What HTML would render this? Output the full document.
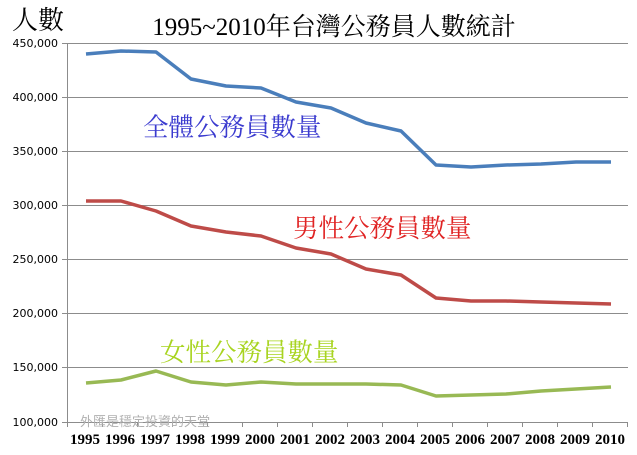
<!DOCTYPE html>
<html><head><meta charset="utf-8"><style>
body{margin:0;background:#fff;}
svg{display:block}
</style></head><body>
<svg width="637" height="455" xmlns="http://www.w3.org/2000/svg">
<rect width="637" height="455" fill="#fff"/>
<g stroke="#8c8c8c" stroke-width="1">
<line x1="67" y1="43.5" x2="628" y2="43.5"/>
<line x1="67" y1="97.5" x2="628" y2="97.5"/>
<line x1="67" y1="151.5" x2="628" y2="151.5"/>
<line x1="67" y1="205.5" x2="628" y2="205.5"/>
<line x1="67" y1="259.5" x2="628" y2="259.5"/>
<line x1="67" y1="313.5" x2="628" y2="313.5"/>
<line x1="67" y1="367.5" x2="628" y2="367.5"/>
<line x1="67" y1="422.5" x2="628" y2="422.5"/>
<line x1="67.5" y1="43" x2="67.5" y2="427"/>
<line x1="62" y1="43.5" x2="67" y2="43.5"/><line x1="62" y1="97.5" x2="67" y2="97.5"/><line x1="62" y1="151.5" x2="67" y2="151.5"/><line x1="62" y1="205.5" x2="67" y2="205.5"/><line x1="62" y1="259.5" x2="67" y2="259.5"/><line x1="62" y1="313.5" x2="67" y2="313.5"/><line x1="62" y1="367.5" x2="67" y2="367.5"/><line x1="62" y1="422.5" x2="67" y2="422.5"/>
<path d="M102.5 422v5M137.5 422v5M172.5 422v5M207.5 422v5M242.5 422v5M277.5 422v5M312.5 422v5M347.5 422v5M382.5 422v5M417.5 422v5M452.5 422v5M487.5 422v5M522.5 422v5M557.5 422v5M592.5 422v5M627.5 422v5"/>
</g>
<g font-family="'DejaVu Sans',sans-serif" font-size="11" fill="#000" text-anchor="end">
<text x="58" y="47">450,000</text><text x="58" y="101">400,000</text><text x="58" y="155">350,000</text><text x="58" y="209">300,000</text><text x="58" y="263">250,000</text><text x="58" y="317">200,000</text><text x="58" y="371">150,000</text><text x="58" y="426">100,000</text>
</g>
<g font-family="'Liberation Serif',serif" font-weight="bold" font-size="15" fill="#000" text-anchor="middle">
<text x="85" y="444">1995</text><text x="120" y="444">1996</text><text x="155" y="444">1997</text><text x="190" y="444">1998</text><text x="225" y="444">1999</text><text x="260" y="444">2000</text><text x="295" y="444">2001</text><text x="330" y="444">2002</text><text x="365" y="444">2003</text><text x="400" y="444">2004</text><text x="435" y="444">2005</text><text x="470" y="444">2006</text><text x="505" y="444">2007</text><text x="540" y="444">2008</text><text x="575" y="444">2009</text><text x="610" y="444">2010</text>
</g>
<g fill="none" stroke-width="3.5" stroke-linejoin="round">
<polyline stroke="#4a7ebb" points="86,54 121,51 156,52 191,79 226,86 261,88 296,102 331,108 366,123 401,131 436,165 471,167 506,165 541,164 576,162 611,162"/>
<polyline stroke="#be4b48" points="86,201 121,201 156,211 191,226 226,232 261,236 296,248 331,254 366,269 401,275 436,298 471,301 506,301 541,302 576,303 611,304"/>
<polyline stroke="#98b954" points="86,383 121,380 156,371 191,382 226,385 261,382 296,384 331,384 366,384 401,385 436,396 471,395 506,394 541,391 576,389 611,387"/>
</g>
<text x="80" y="426" font-family="'Noto Sans CJK TC',sans-serif" font-size="13" fill="#b0b0b0">外匯是穩定投資的天堂</text>
<g font-family="'Liberation Serif','Noto Serif CJK SC',serif">
<text x="12" y="29" font-size="26" fill="#000">人數</text>
<text x="334" y="35" font-size="25" fill="#000" text-anchor="middle">1995~2010年台灣公務員人數統計</text>
<text x="143" y="136" font-size="25.5" fill="#3b3bcf">全體公務員數量</text>
<text x="293" y="237" font-size="25.5" fill="#e02424">男性公務員數量</text>
<text x="160" y="361" font-size="25.5" fill="#a8d420">女性公務員數量</text>
</g>
</svg>
</body></html>
